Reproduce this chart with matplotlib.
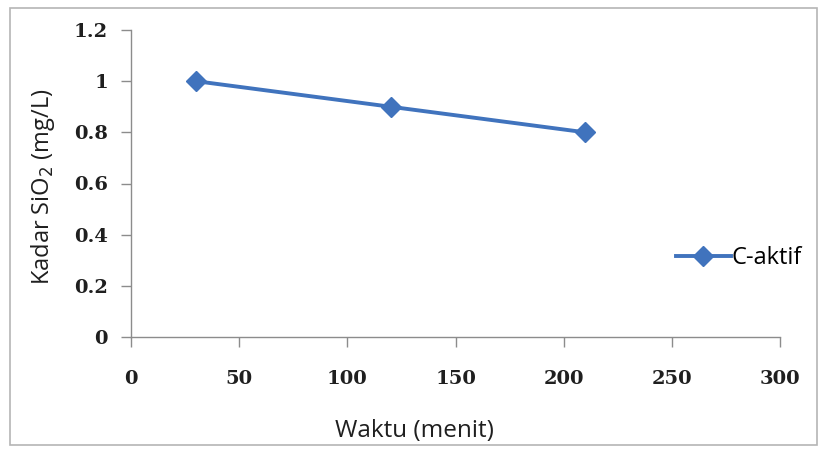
import matplotlib
matplotlib.use("Agg")
import matplotlib.pyplot as plt
from matplotlib.lines import Line2D
from matplotlib.patches import Rectangle

# data
waktu = [30, 120, 210]
kadar_sio2 = [1.0, 0.9, 0.8]
series_label = "C-aktif"
x_ticks = [0, 50, 100, 150, 200, 250, 300]
y_ticks = [0, 0.2, 0.4, 0.6, 0.8, 1.0, 1.2]
y_tick_labels = ["0", "0.2", "0.4", "0.6", "0.8", "1", "1.2"]

LINE_COLOR = "#4073BD"
AXIS_COLOR = "#8C8C8C"
TEXT_COLOR = "#1f1f1f"
TICK_FONT = dict(family="DejaVu Serif", weight="bold", size=14)
LABEL_FONT = ["Open Sans", "DejaVu Sans"]
LABEL_SIZE = 17.5

fig = plt.figure(figsize=(8.21, 4.49), dpi=100)
fig.patch.set_facecolor("white")

W, H = 821, 449
ax = fig.add_axes([131 / W, 1 - 337 / H, (780 - 131) / W, (337 - 30) / H])

ax.plot(waktu, kadar_sio2, color=LINE_COLOR, linewidth=2.8,
        marker="D", markersize=10, markerfacecolor=LINE_COLOR,
        markeredgecolor=LINE_COLOR, label=series_label)

ax.set_xlim(0, 300)
ax.set_ylim(0, 1.2)
ax.set_xticks(x_ticks)
ax.set_yticks(y_ticks)
ax.set_xticklabels([str(t) for t in x_ticks], fontdict=TICK_FONT, color=TEXT_COLOR)
ax.set_yticklabels(y_tick_labels, fontdict=TICK_FONT, color=TEXT_COLOR)
ax.tick_params(axis="both", direction="out", length=7.5, width=1,
               color=AXIS_COLOR)
ax.tick_params(axis="y", pad=9)
ax.tick_params(axis="x", pad=16)

for side in ("top", "right"):
    ax.spines[side].set_visible(False)
for side in ("left", "bottom"):
    ax.spines[side].set_color(AXIS_COLOR)
    ax.spines[side].set_linewidth(1)

ax.set_facecolor("white")
ax.set_xlabel("Waktu (menit)", family=LABEL_FONT, fontsize=LABEL_SIZE,
              color=TEXT_COLOR, va="baseline")
ax.xaxis.set_label_coords((414 - 131) / 649, (337 - 437) / 307)
ax.set_ylabel("Kadar SiO$_2$ (mg/L)", family=LABEL_FONT, fontsize=17,
              color=TEXT_COLOR, va="center")
ax.yaxis.set_label_coords((43 - 131) / 649, (337 - 187) / 307)

# legend on the right
handle = Line2D([], [], color=LINE_COLOR, linewidth=2.8, marker="D",
                markersize=10, markerfacecolor=LINE_COLOR)
ax.legend([handle], [series_label], loc="center left",
          bbox_to_anchor=(655 / W, 1 - 258 / H), bbox_transform=fig.transFigure,
          frameon=False, handlelength=2.3, handletextpad=0.05,
          prop={"family": LABEL_FONT, "size": 17})

# outer chart border
fig.patches.append(Rectangle((10 / W, 4 / H), 807 / W, 437 / H,
                             transform=fig.transFigure, fill=False,
                             edgecolor="#B5B5B5", linewidth=1.2))

fig.savefig("out.png", dpi=100, facecolor="white")
